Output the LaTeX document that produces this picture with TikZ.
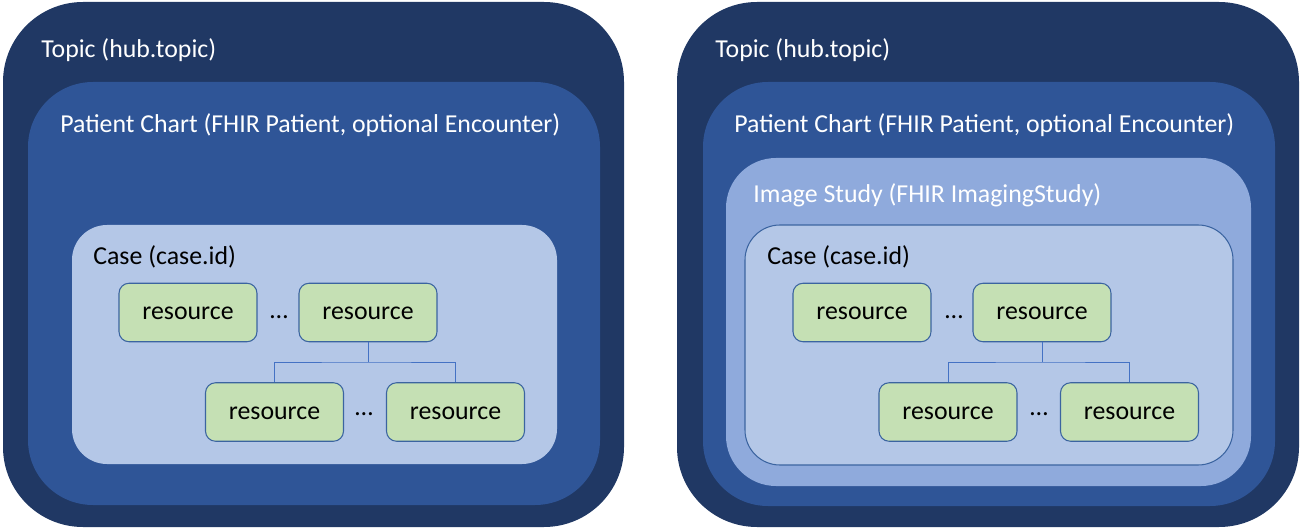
\documentclass[tikz,border=0pt]{standalone}
\usepackage{fontspec}
\setmainfont{Carlito}
\definecolor{topicblue}{HTML}{203864}
\definecolor{chartblue}{HTML}{2F5597}
\definecolor{studyblue}{HTML}{8FAADC}
\definecolor{caseblue}{HTML}{B4C7E7}
\definecolor{resgreen}{HTML}{C5E0B4}
\definecolor{resline}{HTML}{3B64A0}
\definecolor{linkblue}{HTML}{4472C4}
\tikzset{
  res/.style = {draw=resline, fill=resgreen, rounded corners=0.2cm, line width=0.6pt,
    minimum width=2.76cm, minimum height=1.17cm, inner sep=0pt,
    text height=0.9em, text depth=0.05em},
  title/.style = {anchor=base west, inner sep=0pt, text=white},
  label/.style = {anchor=base west, inner sep=0pt, text=black},
  dots/.style = {inner sep=0pt},
  link/.style = {draw=linkblue, line width=0.5pt}
}
\begin{document}
\begin{tikzpicture}[x=0.02cm, y=-0.02cm, font=\fontsize{14.7}{17}\selectfont]
    \useasboundingbox (0,0) rectangle (1302,530);
    % left panel
    \fill[topicblue, rounded corners=1.6cm] (3,2) rectangle (624,527);
    \node[title] (topicA) at (41,58) {Topic (hub.topic)};
    \fill[chartblue, rounded corners=1.3cm] (28,82) rectangle (600,505);
    \node[title] (chartA) at (60,133) {Patient Chart (FHIR Patient, optional Encounter)};
    \fill[caseblue, rounded corners=0.7cm] (72,225) rectangle (557,464);
    \node[label] (caseA) at (93,265) {Case (case.id)};
    \node[res] (ra1) at (188,312.5) {resource};
    \node[res] (ra2) at (368,312.5) {resource};
    \node[res] (ra3) at (274.5,412) {resource};
    \node[res] (ra4) at (455.5,412) {resource};
    \node[dots] (da1) at (279,317) {…};
    \node[dots] (da2) at (364,414) {…};
    \coordinate (ja) at (368,362);
    \draw[link] (ra2.south) -- (ja);
    \draw[link] (ra3.north) |- (ja) -| (ra4.north);
    % right panel
    \fill[topicblue, rounded corners=1.6cm] (677,2) rectangle (1299,527);
    \node[title] (topicB) at (715,58) {Topic (hub.topic)};
    \fill[chartblue, rounded corners=1.3cm] (703,82) rectangle (1275,506);
    \node[title] (chartB) at (734,133) {Patient Chart (FHIR Patient, optional Encounter)};
    \fill[studyblue, rounded corners=1cm] (726,158) rectangle (1251,486);
    \node[title] (studyB) at (753,203) {Image Study (FHIR ImagingStudy)};
    \draw[resline, fill=caseblue, line width=0.6pt, rounded corners=0.7cm] (745,225) rectangle (1233,465);
    \node[label] (caseB) at (767,265) {Case (case.id)};
    \node[res] (rb1) at (862,312.5) {resource};
    \node[res] (rb2) at (1042,312.5) {resource};
    \node[res] (rb3) at (948,412) {resource};
    \node[res] (rb4) at (1129.5,412) {resource};
    \node[dots] (db1) at (954,317) {…};
    \node[dots] (db2) at (1039,414) {…};
    \coordinate (jb) at (1042,362);
    \draw[link] (rb2.south) -- (jb);
    \draw[link] (rb3.north) |- (jb) -| (rb4.north);
\end{tikzpicture}
\end{document}
